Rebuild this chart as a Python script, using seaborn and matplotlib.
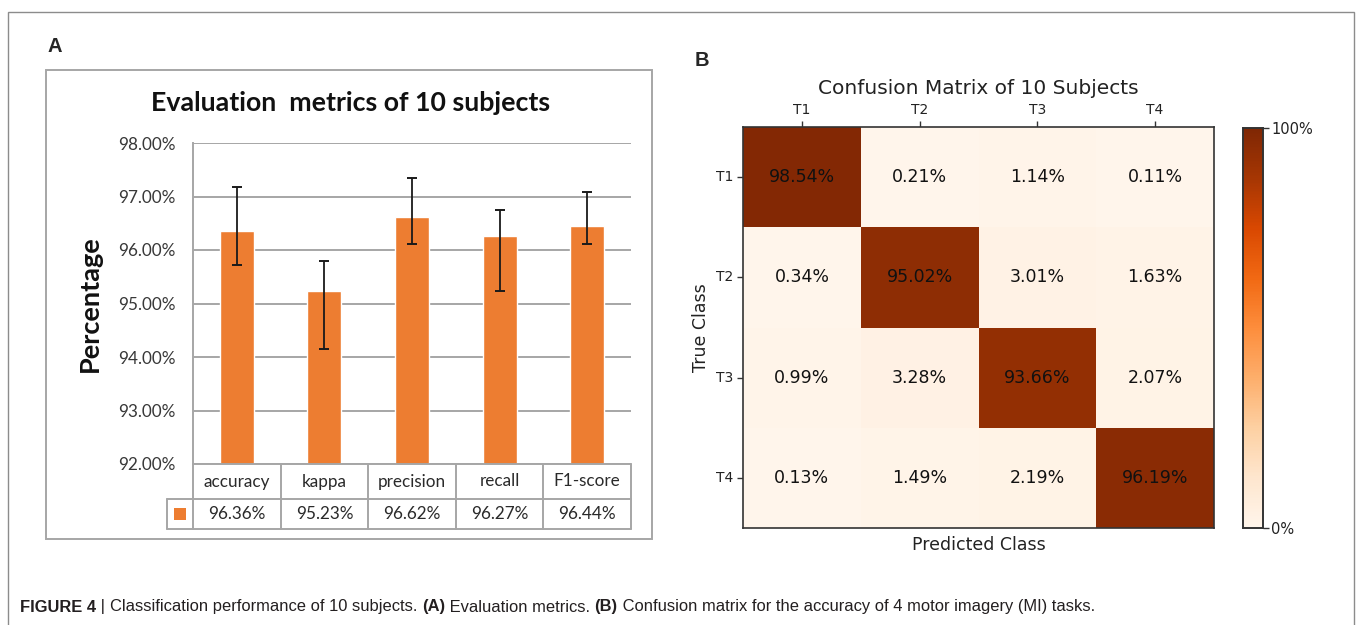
import numpy as np
import pandas as pd
import matplotlib
matplotlib.use("Agg")
import matplotlib.pyplot as plt
from matplotlib.patches import Rectangle
from matplotlib.ticker import FuncFormatter
import seaborn as sns

# ---- Panel A: evaluation metrics (mean with lower/upper error limits) ----
metrics = ["accuracy", "kappa", "precision", "recall", "F1-score"]
metric_means = [96.36, 95.23, 96.62, 96.27, 96.44]
metric_low = [95.72, 94.15, 96.12, 95.23, 96.12]
metric_high = [97.17, 95.80, 97.35, 96.74, 97.08]
pct_ticks = [92, 93, 94, 95, 96, 97, 98]

# ---- Panel B: confusion matrix (row = true class, column = predicted) ----
classes = ["T1", "T2", "T3", "T4"]
conf_matrix = [
    [98.54, 0.21, 1.14, 0.11],
    [0.34, 95.02, 3.01, 1.63],
    [0.99, 3.28, 93.66, 2.07],
    [0.13, 1.49, 2.19, 96.19],
]
cbar_ticks = [0, 100]

W, H = 1358, 625
sns.set_theme(style="white")
plt.rcParams["font.family"] = ["DejaVu Sans"]
FA = ["Lato", "DejaVu Sans"]
CAP = ["Liberation Sans", "DejaVu Sans"]

fig = plt.figure(figsize=(W / 100, H / 100), dpi=100)
fig.patch.set_facecolor("white")


def px(l, t, r, b):
    """Axes rectangle from pixel edges (origin top-left)."""
    return [l / W, 1 - b / H, (r - l) / W, (b - t) / H]


def frame(l, t, r, b, color, lw):
    fig.patches.append(Rectangle((l / W, 1 - b / H), (r - l) / W, (b - t) / H,
                                 transform=fig.transFigure, fill=False,
                                 edgecolor=color, lw=lw, zorder=0))


# outer figure border and panel A frame
frame(8, 12, 1354, 640, "#8c8c8c", 1.0)
frame(46, 70, 652, 539, "#a6a6a6", 1.4)

fig.text(47 / W, 1 - 46 / H, "A", fontsize=14.5, fontweight="bold",
         ha="left", va="center", family=["Liberation Sans", "DejaVu Sans"])
fig.text(695 / W, 1 - 61 / H, "B", fontsize=14.5, fontweight="bold",
         ha="left", va="center", family=["Liberation Sans", "DejaVu Sans"])

# ---------------- Panel A ----------------
grid_c = "#a6a6a6"
bar_c = "#ED7D31"
ax = fig.add_axes(px(193, 143, 631, 464))
df = pd.DataFrame({"metric": metrics, "value": metric_means})
sns.barplot(data=df, x="metric", y="value", color=bar_c, saturation=1,
            width=0.39, errorbar=None, ax=ax, zorder=2)
means = np.array(metric_means)
yerr = [means - np.array(metric_low), np.array(metric_high) - means]
ax.errorbar(np.arange(len(metrics)), means, yerr=yerr, fmt="none",
            ecolor="#1a1a1a", elinewidth=1.3, capsize=3.6, capthick=1.4,
            zorder=3)
ax.set_ylim(pct_ticks[0], pct_ticks[-1])
ax.set_xlim(-0.5, len(metrics) - 0.5)
ax.set_yticks(pct_ticks)
ax.yaxis.set_major_formatter(FuncFormatter(lambda v, _: f"{v:.2f}%"))
ax.yaxis.grid(True, color=grid_c, lw=1.4)
ax.set_axisbelow(True)
ax.set_xticks([])
ax.set_xlabel("")
ax.set_ylabel("")
for side in ["top", "right", "bottom"]:
    ax.spines[side].set_visible(False)
ax.spines["left"].set_color(grid_c)
ax.spines["left"].set_linewidth(1.4)
ax.tick_params(axis="y", length=0, pad=12.5, labelsize=12.3, labelcolor="#383838")
for lab in ax.get_yticklabels():
    lab.set_family(FA)

fig.text(351 / W, 1 - 103 / H, "Evaluation  metrics of 10 subjects",
         fontsize=19.3, fontweight="bold", ha="center", va="center",
         family=FA, color="#111111")
fig.text(90 / W, 1 - 304 / H, "Percentage", rotation=90, fontsize=19.5,
         fontweight="bold", ha="center", va="center", family=FA,
         color="#111111")

# data table under the bars, aligned with the category positions
key_w = 26 / 87.6
tax = fig.add_axes(px(167, 464, 631, 529))
tax.set_xlim(-0.5 - key_w, len(metrics) - 0.5)
tax.set_ylim(0, 65)
tax.axis("off")
tc = "#a6a6a6"
tlw = 1.4
# horizontal rules
tax.plot([-0.5, len(metrics) - 0.5], [65, 65], color=tc, lw=tlw, clip_on=False)
tax.plot([-0.5 - key_w, len(metrics) - 0.5], [30, 30], color=tc, lw=tlw, clip_on=False)
tax.plot([-0.5 - key_w, len(metrics) - 0.5], [0, 0], color=tc, lw=tlw, clip_on=False)
# vertical rules
for i in range(len(metrics) + 1):
    tax.plot([i - 0.5, i - 0.5], [0, 65], color=tc, lw=tlw, clip_on=False)
tax.plot([-0.5 - key_w] * 2, [0, 30], color=tc, lw=tlw, clip_on=False)
for i, (m, v) in enumerate(zip(metrics, metric_means)):
    tax.text(i, 47.5, m, ha="center", va="center", fontsize=12.3,
             family=FA, color="#2a2a2a")
    tax.text(i, 15, f"{v:.2f}%", ha="center", va="center", fontsize=12.3,
             family=FA, color="#2a2a2a")
tax.scatter([-0.5 - key_w / 2], [15], marker="s", s=70, color=bar_c,
            linewidths=0, clip_on=False)

# ---------------- Panel B ----------------
hax = fig.add_axes(px(743, 127, 1214, 528))
cax = fig.add_axes(px(1243, 128, 1263, 528))
cm = pd.DataFrame(conf_matrix, index=classes, columns=classes)
annot = cm.map(lambda v: f"{v:.2f}%")
sns.heatmap(cm, ax=hax, cbar_ax=cax, cmap="Oranges", vmin=0, vmax=100,
            annot=annot, fmt="", annot_kws={"fontsize": 12.5, "color": "#111111"},
            square=False)
hax.xaxis.tick_top()
hax.xaxis.set_label_position("bottom")
hax.set_xlabel("Predicted Class", fontsize=12.5, color="#222222", labelpad=6)
hax.set_ylabel("True Class", fontsize=12.5, color="#222222", labelpad=4)
hax.tick_params(axis="both", length=4, width=1, color="#333333",
                labelsize=10, labelcolor="#222222", pad=3)
hax.tick_params(axis="x", top=True, bottom=False, labeltop=True, labelbottom=False)
hax.tick_params(axis="y", left=True)
plt.setp(hax.get_yticklabels(), rotation=0)
plt.setp(hax.get_xticklabels(), rotation=0)
for s in hax.spines.values():
    s.set_visible(True)
    s.set_color("#333333")
    s.set_linewidth(1.2)
hax.set_title("Confusion Matrix of 10 Subjects", fontsize=14.5,
              color="#222222", pad=24)

cax.set_yticks(cbar_ticks)
cax.set_yticklabels([f"{t}%" for t in cbar_ticks])
cax.tick_params(axis="y", length=4, width=1, color="#333333", labelsize=10.5,
                labelcolor="#222222", pad=2)
for s in cax.spines.values():
    s.set_visible(True)
    s.set_color("#333333")
    s.set_linewidth(1.2)

# ---------------- Caption ----------------
pieces = [
    ("FIGURE 4", "bold", "#231f20"),
    (" | ", "normal", "#231f20"),
    ("Classification performance of 10 subjects. ", "normal", "#231f20"),
    ("(A)", "bold", "#231f20"),
    (" Evaluation metrics. ", "normal", "#231f20"),
    ("(B)", "bold", "#231f20"),
    (" Confusion matrix for the accuracy of 4 motor imagery (MI) tasks.", "normal", "#231f20"),
]
fig.canvas.draw()
renderer = fig.canvas.get_renderer()
x = 20
for txt, wt, col in pieces:
    t = fig.text(x / W, 1 - 607 / H, txt, fontsize=11.9, fontweight=wt,
                 color=col, ha="left", va="center", family=CAP)
    bb = t.get_window_extent(renderer=renderer)
    x += bb.width

fig.savefig("out.png", dpi=100, facecolor="white")
